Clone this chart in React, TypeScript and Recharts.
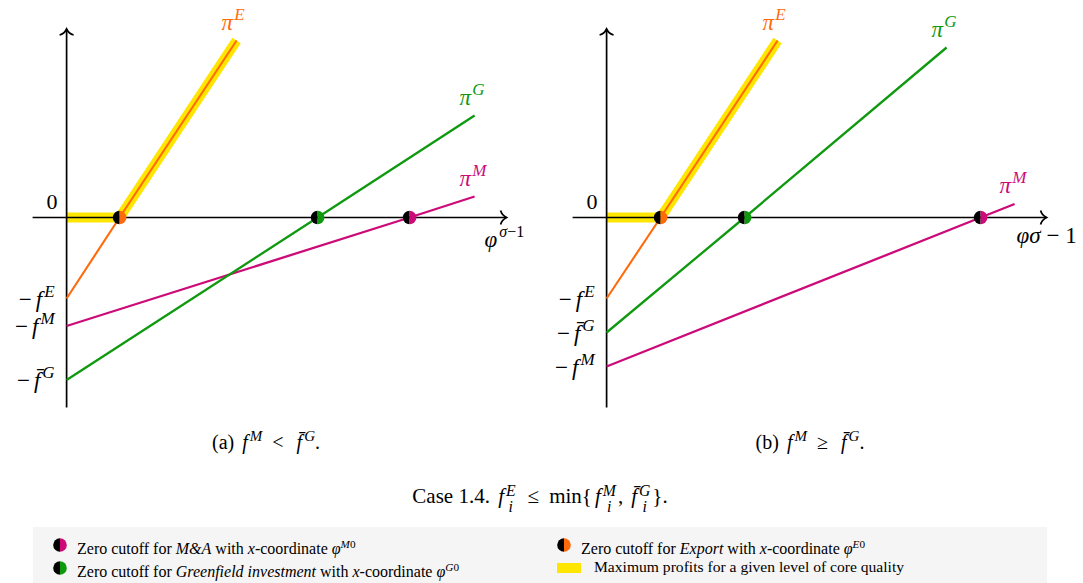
import React from "react";
import { ComposedChart, Line, Scatter, XAxis, YAxis } from "recharts";

// coordinates in "profit" units, origin at (0, 0)
const xAxisLine = [
  { x: -3.4, y: 0 },
  { x: 0, y: 0 },
  { x: 44.0, y: 0 },
];
const yAxisLine = [
  { x: 0, y: -19.0 },
  { x: 0, y: 18.85 },
];

// panel (a): f^M < f^G
const exportA = [
  { x: 0, y: -8.1 },
  { x: 5.3, y: 0 },
  { x: 17.0, y: 17.7 },
];
const greenfieldA = [
  { x: 0, y: -16.25 },
  { x: 25.1, y: 0 },
  { x: 40.8, y: 10.2 },
];
const mergerA = [
  { x: 0, y: -10.85 },
  { x: 34.3, y: 0 },
  { x: 40.8, y: 2.1 },
];
const maxProfitA = [
  { x: 0, y: 0 },
  { x: 5.3, y: 0 },
  { x: 17.0, y: 17.7 },
];

// panel (b): f^M >= f^G
const exportB = [
  { x: 0, y: -8.1 },
  { x: 5.4, y: 0 },
  { x: 17.1, y: 17.7 },
];
const greenfieldB = [
  { x: 0, y: -11.5 },
  { x: 13.8, y: 0 },
  { x: 34.0, y: 17.0 },
];
const mergerB = [
  { x: 0, y: -14.9 },
  { x: 37.4, y: 0 },
  { x: 40.8, y: 1.35 },
];
const maxProfitB = [
  { x: 0, y: 0 },
  { x: 5.4, y: 0 },
  { x: 17.1, y: 17.7 },
];

const ORANGE = "#ff6a0a";
const GREEN = "#0f990f";
const MAGENTA = "#cc0a78";
const YELLOW = "#ffe600";
const FONT = "'Liberation Serif', 'DejaVu Serif', serif";

const W = 540;
const H = 420;

function HalfDot({ cx, cy, color, r = 6.8 }: any) {
  return (
    <g>
      <path d={`M${cx},${cy - r} A${r},${r} 0 0,0 ${cx},${cy + r} Z`} fill="#000" />
      <path d={`M${cx},${cy - r} A${r},${r} 0 0,1 ${cx},${cy + r} Z`} fill={color} />
    </g>
  );
}

// labels hung on the first (intercept) and last (end) point of a profit line
function lineLabels(sup: string, color: string, tick: React.ReactNode) {
  return (props: any) => {
    const { cx, cy, index } = props;
    if (index === 0) {
      return (
        <text key={index} x={cx - 12} y={cy + 8} textAnchor="end" fontFamily={FONT} fontSize={23} fill="#000">
          {tick}
        </text>
      );
    }
    if (index === 2) {
      return (
        <text key={index} x={cx - 15} y={cy - 11} fontFamily={FONT} fontSize={23} fill={color}>
          <tspan fontStyle="italic">π</tspan>
          <tspan dx={1} dy={-10} fontSize={17} fontStyle="italic">
            {sup}
          </tspan>
        </text>
      );
    }
    return <g key={index} />;
  };
}

function tick(letter: string, bar: boolean) {
  return (
    <>
      <tspan>−</tspan>
      <tspan dx={4} fontStyle="italic">{bar ? "f\u0304" : "f"}</tspan>
      <tspan dx={2} dy={-10} fontSize={17} fontStyle="italic">
        {letter}
      </tspan>
    </>
  );
}

function xAxisDot(variant: "a" | "b") {
  return (props: any) => {
    const { cx, cy, index } = props;
    if (index === 1) {
      return (
        <text key={index} x={cx - 9} y={cy - 9} textAnchor="end" fontFamily={FONT} fontSize={22}>
          0
        </text>
      );
    }
    if (index === 2) {
      return (
        <g key={index}>
          <path
            d={`M${cx - 6},${cy - 7} C${cx - 5},${cy - 3} ${cx - 2},${cy - 1} ${cx},${cy} C${cx - 2},${cy + 1} ${cx - 5},${cy + 3} ${cx - 6},${cy + 7}`}
            fill="none"
            stroke="#000"
            strokeWidth={1.7}
          />
          {variant === "a" ? (
            <text x={cx - 22} y={cy + 29} fontFamily={FONT} fontSize={23}>
              <tspan fontStyle="italic">φ</tspan>
              <tspan dx={2} dy={-10} fontSize={16} fontStyle="italic">σ</tspan>
              <tspan fontSize={16}>−1</tspan>
            </text>
          ) : (
            <text x={cx - 30} y={cy + 25} fontFamily={FONT} fontSize={23}>
              <tspan fontStyle="italic">φσ</tspan>
              <tspan> − 1</tspan>
            </text>
          )}
        </g>
      );
    }
    return <g key={index} />;
  };
}

const yAxisDot = (props: any) => {
  const { cx, cy, index } = props;
  if (index === 1) {
    return (
      <path
        key={index}
        d={`M${cx - 7},${cy + 6} C${cx - 3},${cy + 5} ${cx - 1},${cy + 2} ${cx},${cy} C${cx + 1},${cy + 2} ${cx + 3},${cy + 5} ${cx + 7},${cy + 6}`}
        fill="none"
        stroke="#000"
        strokeWidth={1.7}
      />
    );
  }
  return <g key={index} />;
};

function Panel({ variant, exp, green, merger, maxProfit }: any) {
  const zero = (d: { x: number; y: number }[]) => d.filter((p) => p.y === 0);
  return (
    <ComposedChart width={W} height={H} margin={{ top: 0, right: 0, bottom: 0, left: 0 }}>
      <XAxis type="number" dataKey="x" domain={[-6.66, 47.34]} hide allowDataOverflow />
      <YAxis type="number" dataKey="y" domain={[-20.25, 21.75]} hide allowDataOverflow />
      <Line
        data={maxProfit}
        dataKey="y"
        type="linear"
        stroke={YELLOW}
        strokeWidth={10}
        strokeLinejoin="miter"
        strokeLinecap="butt"
        dot={false}
        activeDot={false}
        isAnimationActive={false}
      />
      <Line
        data={xAxisLine}
        dataKey="y"
        type="linear"
        stroke="#000"
        strokeWidth={1.7}
        dot={xAxisDot(variant)}
        activeDot={false}
        isAnimationActive={false}
      />
      <Line
        data={yAxisLine}
        dataKey="y"
        type="linear"
        stroke="#000"
        strokeWidth={1.7}
        dot={yAxisDot}
        activeDot={false}
        isAnimationActive={false}
      />
      <Line
        data={merger}
        dataKey="y"
        type="linear"
        stroke={MAGENTA}
        strokeWidth={2.3}
        dot={lineLabels("M", MAGENTA, tick("M", false))}
        activeDot={false}
        isAnimationActive={false}
      />
      <Line
        data={green}
        dataKey="y"
        type="linear"
        stroke={GREEN}
        strokeWidth={2.3}
        dot={lineLabels("G", GREEN, tick("G", true))}
        activeDot={false}
        isAnimationActive={false}
      />
      <Line
        data={exp}
        dataKey="y"
        type="linear"
        stroke={ORANGE}
        strokeWidth={2.1}
        dot={lineLabels("E", ORANGE, tick("E", false))}
        activeDot={false}
        isAnimationActive={false}
      />
      <Scatter data={zero(exp)} dataKey="y" isAnimationActive={false} shape={(p: any) => <HalfDot cx={p.cx} cy={p.cy} color={ORANGE} />} />
      <Scatter data={zero(green)} dataKey="y" isAnimationActive={false} shape={(p: any) => <HalfDot cx={p.cx} cy={p.cy} color={GREEN} />} />
      <Scatter data={zero(merger)} dataKey="y" isAnimationActive={false} shape={(p: any) => <HalfDot cx={p.cx} cy={p.cy} color={MAGENTA} />} />
    </ComposedChart>
  );
}

function LegendDot({ color }: { color: string }) {
  return (
    <svg width={16} height={16} style={{ position: "absolute", left: -8, top: -8 }}>
      <HalfDot cx={8} cy={8} color={color} r={6.8} />
    </svg>
  );
}

const supStyle: React.CSSProperties = { fontSize: "0.75em", fontStyle: "italic", marginLeft: 2 };
const rel: React.CSSProperties = { margin: "0 10px" };

function F({ bar }: { bar?: boolean }) {
  return <i style={{ marginLeft: 3 }}>{bar ? "f\u0304" : "f"}</i>;
}

function SubSup({ sup, bar }: { sup: string; bar?: boolean }) {
  return (
    <span style={{ display: "inline-block" }}>
      <F bar={bar} />
      <span
        style={{
          display: "inline-flex",
          flexDirection: "column",
          verticalAlign: "middle",
          fontSize: "0.75em",
          lineHeight: 1,
          marginLeft: 2,
          marginRight: 2,
          position: "relative",
          top: 1,
        }}
      >
        <i>{sup}</i>
        <i>i</i>
      </span>
    </span>
  );
}

export default function App() {
  const text: React.CSSProperties = { position: "absolute", whiteSpace: "nowrap", fontFamily: FONT, color: "#000" };
  const legendText: React.CSSProperties = { ...text, fontSize: 16, lineHeight: "18px" };
  return (
    <div
      style={{
        position: "absolute",
        left: 0,
        top: 0,
        width: 1083,
        height: 583,
        background: "#fff",
        overflow: "hidden",
        fontFamily: FONT,
      }}
    >
      <div style={{ position: "absolute", left: 0, top: 0 }}>
        <Panel variant="a" exp={exportA} green={greenfieldA} merger={mergerA} maxProfit={maxProfitA} />
      </div>
      <div style={{ position: "absolute", left: 540, top: 0 }}>
        <Panel variant="b" exp={exportB} green={greenfieldB} merger={mergerB} maxProfit={maxProfitB} />
      </div>

      <div style={{ ...text, left: 166, width: 200, top: 424, fontSize: 20, lineHeight: "24px", textAlign: "center" }}>
        (a) <F />
        <sup style={supStyle}>M</sup>
        <span style={rel}>&lt;</span>
        <F bar />
        <sup style={supStyle}>G</sup>.
      </div>
      <div style={{ ...text, left: 710, width: 200, top: 424, fontSize: 20, lineHeight: "24px", textAlign: "center" }}>
        (b) <F />
        <sup style={supStyle}>M</sup>
        <span style={rel}>≥</span>
        <F bar />
        <sup style={supStyle}>G</sup>.
      </div>
      <div style={{ ...text, left: 340, width: 400, top: 482, fontSize: 21, lineHeight: "26px", textAlign: "center" }}>
        Case 1.4. <SubSup sup="E" />
        <span style={rel}>≤</span>min{"{"}
        <SubSup sup="M" />
        <span style={{ marginRight: 5 }}>,</span>
        <SubSup sup="G" bar />
        {"}"}.
      </div>

      <div style={{ position: "absolute", left: 33, top: 527, width: 1014, height: 56, background: "#f5f5f5" }}>
        <div style={{ position: "absolute", left: 27, top: 18 }}>
          <LegendDot color={MAGENTA} />
        </div>
        <div style={{ ...legendText, left: 44, top: 8 }}>
          Zero cutoff for <i>M&amp;A</i> with <i>x</i>-coordinate <i>φ</i>
          <sup style={{ fontSize: "0.7em" }}>
            <i>M</i>0
          </sup>
        </div>
        <div style={{ position: "absolute", left: 27, top: 41 }}>
          <LegendDot color={GREEN} />
        </div>
        <div style={{ ...legendText, left: 44, top: 31 }}>
          Zero cutoff for <i>Greenfield investment</i> with <i>x</i>-coordinate <i>φ</i>
          <sup style={{ fontSize: "0.7em" }}>
            <i>G</i>0
          </sup>
        </div>
        <div style={{ position: "absolute", left: 531, top: 18 }}>
          <LegendDot color={ORANGE} />
        </div>
        <div style={{ ...legendText, left: 548, top: 8 }}>
          Zero cutoff for <i>Export</i> with <i>x</i>-coordinate <i>φ</i>
          <sup style={{ fontSize: "0.7em" }}>
            <i>E</i>0
          </sup>
        </div>
        <div style={{ position: "absolute", left: 524, top: 36, width: 24, height: 10, background: YELLOW }} />
        <div style={{ ...legendText, left: 561, top: 31, fontSize: 15.6 }}>Maximum profits for a given level of core quality</div>
      </div>
    </div>
  );
}
